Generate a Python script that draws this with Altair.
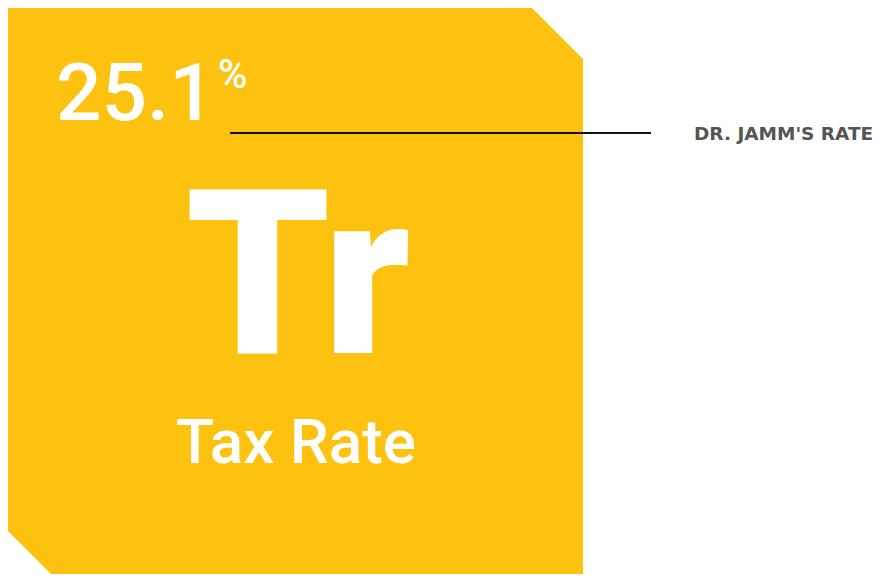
import altair as alt
import pandas as pd

# ---- content ----
rate_value = [25.1]
rate_unit = ["%"]
element_symbol = ["Tr"]
element_name = ["Tax Rate"]
callout_label = ["DR. JAMM'S RATE"]

# tile geometry (page pixel space)
tile_left, tile_top, tile_right, tile_bottom = 7, 6, 583, 582
cut_tr = 53   # top-right corner cut
cut_bl = 52   # bottom-left corner cut

W, H = 867, 566
xs = alt.Scale(domain=[8, 8 + W], nice=False, zero=False)
ys = alt.Scale(domain=[8 + H, 8], nice=False, zero=False)

tile = pd.DataFrame({
    "x": [tile_left, tile_left + cut_bl, tile_right - cut_tr, tile_right],
    "y": [tile_top, tile_top, tile_top, tile_top + cut_tr],
    "y2": [tile_bottom - cut_bl, tile_bottom, tile_bottom, tile_bottom],
})

YELLOW = "#FDC20F"

area = alt.Chart(tile).mark_area(color=YELLOW, opacity=1, clip=True).encode(
    x=alt.X("x:Q", scale=xs, axis=None),
    y=alt.Y("y:Q", scale=ys, axis=None),
    y2="y2:Q",
)

def txt(df, **mark):
    return alt.Chart(df).mark_text(**mark).encode(
        x=alt.X("x:Q", scale=xs, axis=None),
        y=alt.Y("y:Q", scale=ys, axis=None),
        text="t:N",
    )

val = txt(pd.DataFrame({"x": [56], "y": [120], "t": [f"{rate_value[0]:.1f}"]}),
          font="Roboto", fontSize=80, fontWeight=500, color="white",
          align="left", baseline="alphabetic")
unit = txt(pd.DataFrame({"x": [218], "y": [88], "t": rate_unit}),
           font="Roboto", fontSize=40, fontWeight=500, color="white",
           align="left", baseline="alphabetic")
sym = txt(pd.DataFrame({"x": [298], "y": [353], "t": element_symbol}),
          font="Roboto", fontSize=230, fontWeight=900, color="white",
          align="center", baseline="alphabetic")
name = txt(pd.DataFrame({"x": [296], "y": [463], "t": element_name}),
           font="Roboto", fontSize=62, fontWeight=500, color="white",
           align="center", baseline="alphabetic")
lab = txt(pd.DataFrame({"x": [694], "y": [140], "t": callout_label}),
          font="DejaVu Sans", fontSize=18.5, fontWeight="bold", color="#555555",
          align="left", baseline="alphabetic")

rule = alt.Chart(pd.DataFrame({"x": [230], "x2": [651], "y": [133]})).mark_rule(
    color="#111111", strokeWidth=2
).encode(
    x=alt.X("x:Q", scale=xs, axis=None),
    x2="x2:Q",
    y=alt.Y("y:Q", scale=ys, axis=None),
)

chart = alt.layer(area, rule, val, unit, sym, name, lab).properties(
    width=W, height=H, padding=0, autosize=alt.AutoSizeParams(type="none"),
    background="white",
).configure_view(stroke=None)

chart.save("out.html", embed_options={"renderer": "svg", "actions": False})
